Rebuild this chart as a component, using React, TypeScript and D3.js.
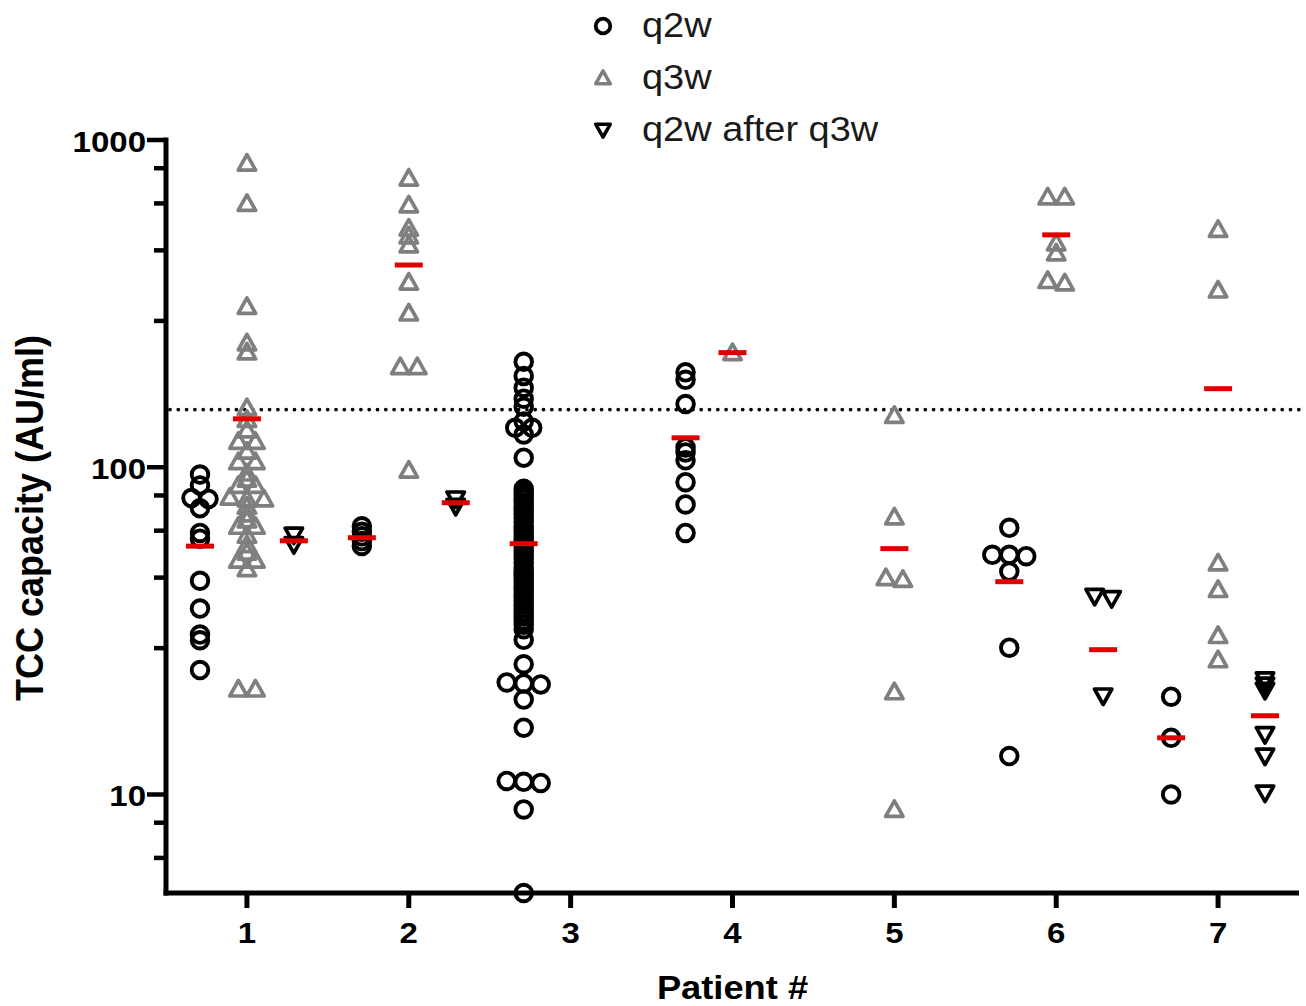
import React, { useEffect, useRef } from "react";
import * as d3 from "d3";

const patients = [1, 2, 3, 4, 5, 6, 7];

// TCC capacity (AU/ml), one list per patient for each regimen
const q2w: number[][] = [
  [95, 88, 80.5, 80, 75, 63, 60.5, 45, 37, 30.8, 29.6, 24],
  [66, 63.5, 61.5, 59.5, 57.5],
  [210, 190, 175, 162, 153, 138, 132, 132, 126, 107,
    86, 84, 82, 80, 78, 76, 74, 72, 70, 68, 66, 64.5, 63, 61.5, 60, 58.5, 57, 55.5, 54, 52.5,
    51, 49.5, 48, 47, 46, 45, 44, 43, 42, 41, 40, 39, 38, 37, 36, 35, 34, 33, 32,
    29.7, 25, 22, 21.85, 21.7, 19.5, 16, 11, 10.93, 10.85, 9, 5],
  [195, 185, 156, 115, 111, 105, 90, 77, 63],
  [],
  [65.3, 54, 54, 53.5, 48, 28.1, 13.1],
  [19.9, 14.9, 10],
];
const q3w: number[][] = [
  [850, 640, 310, 240, 225, 152, 140, 130, 120, 120, 112, 104, 104, 96, 92, 88, 88, 81, 80, 80,
    76, 72, 69, 66, 66, 62, 58, 55, 52, 52, 49, 21, 21],
  [765, 633, 538, 509, 478, 368, 296, 203, 203, 98],
  [],
  [224],
  [144, 70.5, 46, 45.4, 20.6, 9],
  [670, 670, 485, 452, 372, 366],
  [533, 348, 51, 42.3, 30.6, 25.8],
];
const q2wAfterQ3w: number[][] = [
  [62, 58],
  [80, 76],
  [],
  [],
  [],
  [40.3, 39.7, 20],
  [22.4, 21.6, 20.8, 15.25, 13.1, 10.1],
];

// red bars (group means)
const q2wMean = [57.4, 60.9, 58.4, 123, null, 44.7, 14.9];
const q3wMean = [140.6, 415, null, 224, 56.4, 513, 173.8];
const afterMean = [59.6, 77.9, null, null, null, 27.7, 17.4];

const threshold = 150;
const yMajor = [10, 100, 1000];
const minorSteps = [2.8, 4.6, 6.4, 8.2];
const legendLabels = ["q2w", "q3w", "q2w after q3w"];

const FONT = "'Liberation Sans', Arial, Helvetica, sans-serif";
const GRAY = "#7f7f7f";
const RED = "#e10000";

const upTri = (w: number, h: number) =>
  `M0,${-h * 0.55}L${w},${h * 0.45}L${-w},${h * 0.45}Z`;
const downTri = (w: number, h: number) =>
  `M${-w},${-h * 0.45}L${w},${-h * 0.45}L0,${h * 0.55}Z`;

const App = () => {
  const ref = useRef<SVGSVGElement>(null);

  useEffect(() => {
    const svg = d3.select(ref.current);
    svg.selectAll("*").remove();

    const left = 166, right = 1299, top = 140, bottom = 893;
    const x = d3.scaleLinear().domain([0.5, 7.5]).range([left, right]);
    const y = d3.scaleLog().domain([5, 1000]).range([bottom, top]);

    // points whose values nearly coincide are set side by side
    const rowGap = 2.5;
    const spread = 17;
    const layout = (values: number[], cx: number) => {
      const pts = values.map((v) => ({ v, y: y(v) })).sort((a, b) => a.y - b.y);
      const rows: { v: number; y: number }[][] = [];
      pts.forEach((p) => {
        const row = rows[rows.length - 1];
        if (row && p.y - row[0].y < rowGap) row.push(p);
        else rows.push([p]);
      });
      return rows.flatMap((row) =>
        row.map((p, i) => ({ ...p, x: cx + (i - (row.length - 1) / 2) * spread }))
      );
    };

    // threshold line
    svg.append("line")
      .attr("x1", left + 4).attr("x2", right)
      .attr("y1", y(threshold)).attr("y2", y(threshold))
      .attr("stroke", "#000").attr("stroke-width", 3.8)
      .attr("stroke-linecap", "round")
      .attr("stroke-dasharray", "0 8.3");

    // axes
    const ax = svg.append("g").attr("stroke", "#000");
    ax.append("line").attr("x1", left).attr("x2", left)
      .attr("y1", top - 2.5).attr("y2", bottom + 2.5).attr("stroke-width", 5);
    ax.append("line").attr("x1", left - 2.5).attr("x2", right)
      .attr("y1", bottom).attr("y2", bottom).attr("stroke-width", 5);

    const minors: number[] = [];
    [1, 10, 100].forEach((d) => minorSteps.forEach((m) => {
      const v = d * m;
      if (v >= 5 && v <= 1000) minors.push(v);
    }));
    ax.selectAll(".minor").data(minors).join("line")
      .attr("x1", left - 12).attr("x2", left)
      .attr("y1", (d) => y(d)).attr("y2", (d) => y(d))
      .attr("stroke-width", 4.5);
    ax.selectAll(".major").data(yMajor).join("line")
      .attr("x1", left - 19).attr("x2", left)
      .attr("y1", (d) => y(d)).attr("y2", (d) => y(d))
      .attr("stroke-width", 4.5);
    ax.selectAll(".xt").data(patients).join("line")
      .attr("x1", (d) => x(d)).attr("x2", (d) => x(d))
      .attr("y1", bottom).attr("y2", bottom + 15)
      .attr("stroke-width", 5);

    svg.selectAll(".ylab").data(yMajor).join("text")
      .attr("transform", (d) => `translate(${left - 20},${y(d) + 12}) scale(1.1,1)`)
      .attr("text-anchor", "end")
      .attr("font-family", FONT).attr("font-weight", "bold").attr("font-size", 30)
      .text((d) => d);
    svg.selectAll(".xlab").data(patients).join("text")
      .attr("transform", (d) => `translate(${x(d)},943) scale(1.1,1)`)
      .attr("text-anchor", "middle")
      .attr("font-family", FONT).attr("font-weight", "bold").attr("font-size", 30)
      .text((d) => d);

    svg.append("text")
      .attr("transform", `translate(43,518) scale(1.1,1) rotate(-90)`)
      .attr("text-anchor", "middle")
      .attr("font-family", FONT).attr("font-weight", "bold").attr("font-size", 36)
      .text("TCC capacity (AU/ml)");
    svg.append("text")
      .attr("transform", `translate(${(left + right) / 2},999) scale(1.1,1)`)
      .attr("text-anchor", "middle")
      .attr("font-family", FONT).attr("font-weight", "bold").attr("font-size", 33)
      .text("Patient #");

    // points
    const off = 0.29;
    const pts = svg.append("g").attr("fill", "none").attr("stroke-linejoin", "round");
    patients.forEach((p, i) => {
      pts.append("g").selectAll("path")
        .data(layout(q3w[i], x(p)))
        .join("path")
        .attr("transform", (d) => `translate(${d.x},${d.y})`)
        .attr("d", upTri(8.7, 15.5))
        .attr("stroke", GRAY).attr("stroke-width", 3.7);
      pts.append("g").selectAll("circle")
        .data(layout(q2w[i], x(p - off)))
        .join("circle")
        .attr("cx", (d) => d.x).attr("cy", (d) => d.y).attr("r", 8.3)
        .attr("stroke", "#000").attr("stroke-width", 3.9);
      pts.append("g").selectAll("path")
        .data(layout(q2wAfterQ3w[i], x(p + off)))
        .join("path")
        .attr("transform", (d) => `translate(${d.x},${d.y})`)
        .attr("d", downTri(8.7, 15.5))
        .attr("stroke", "#000").attr("stroke-width", 3.7);
    });

    // mean bars
    const means = [
      ...q2wMean.map((m, i) => ({ m, cx: x(patients[i] - off) })),
      ...q3wMean.map((m, i) => ({ m, cx: x(patients[i]) })),
      ...afterMean.map((m, i) => ({ m, cx: x(patients[i] + off) })),
    ].filter((d) => d.m !== null) as { m: number; cx: number }[];
    svg.append("g").selectAll("rect").data(means).join("rect")
      .attr("x", (d) => d.cx - 14).attr("y", (d) => y(d.m) - 2.5)
      .attr("width", 28).attr("height", 5).attr("fill", RED);

    // legend
    const lg = svg.append("g");
    const rowsY = [26, 78, 130];
    lg.append("circle").attr("cx", 603).attr("cy", rowsY[0]).attr("r", 7.3)
      .attr("fill", "none").attr("stroke", "#000").attr("stroke-width", 3.8);
    lg.append("path").attr("transform", `translate(603,${rowsY[1]})`)
      .attr("d", upTri(7.3, 13)).attr("fill", "none").attr("stroke", GRAY)
      .attr("stroke-width", 3.5).attr("stroke-linejoin", "round");
    lg.append("path").attr("transform", `translate(603,${rowsY[2]})`)
      .attr("d", downTri(7.3, 13)).attr("fill", "none").attr("stroke", "#000")
      .attr("stroke-width", 3.5).attr("stroke-linejoin", "round");
    lg.selectAll("text").data(legendLabels).join("text")
      .attr("transform", (_, i) => `translate(642,${rowsY[i] + 11}) scale(1.1,1)`)
      .attr("font-family", FONT).attr("font-size", 34.5).attr("fill", "#1a1a1a")
      .text((d) => d);
  }, []);

  return (
    <svg
      ref={ref}
      width={1306}
      height={1006}
      style={{ position: "absolute", left: 0, top: 0, background: "#fff" }}
    />
  );
};

export default App;
